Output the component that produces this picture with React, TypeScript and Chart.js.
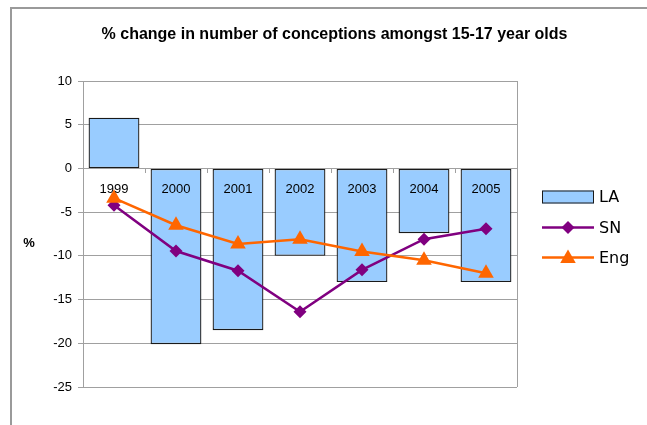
import React, { useEffect, useRef } from 'react';
import { Chart, registerables } from 'chart.js';

Chart.register(...registerables);

const categories = ['1999', '2000', '2001', '2002', '2003', '2004', '2005'];
const laValues = [5.8, -20.1, -18.5, -10.0, -13.0, -7.4, -13.0];
const snValues = [-4.2, -9.45, -11.7, -16.4, -11.6, -8.1, -6.9];
const engValues = [-3.4, -6.5, -8.65, -8.1, -9.5, -10.5, -12.0];
const seriesNames = ['LA', 'SN', 'Eng'];
const yMin = -25;
const yMax = 10;
const yStep = 5;
const titleText = '% change in number of conceptions amongst 15-17 year olds';
const yAxisTitle = '%';

const BAR_FILL = '#99CCFF';
const BAR_BORDER = '#1a1a1a';
const SN_COLOR = '#800080';
const ENG_COLOR = '#FF6600';
const GRID = '#A0A0A0';
const FONT = '"Liberation Sans", Arial, sans-serif';

function drawDiamond(ctx: CanvasRenderingContext2D, x: number, y: number, r: number, color: string) {
  ctx.beginPath();
  ctx.moveTo(x, y - r);
  ctx.lineTo(x + r, y);
  ctx.lineTo(x, y + r);
  ctx.lineTo(x - r, y);
  ctx.closePath();
  ctx.fillStyle = color;
  ctx.fill();
}

function drawTriangle(ctx: CanvasRenderingContext2D, x: number, y: number, r: number, color: string) {
  ctx.beginPath();
  ctx.moveTo(x, y - r);
  ctx.lineTo(x + r * Math.sqrt(3) / 2, y + r / 2);
  ctx.lineTo(x - r * Math.sqrt(3) / 2, y + r / 2);
  ctx.closePath();
  ctx.fillStyle = color;
  ctx.fill();
}

const decorPlugin = {
  id: 'decor',
  beforeDraw(chart: any) {
    const ctx = chart.ctx as CanvasRenderingContext2D;
    ctx.save();
    ctx.fillStyle = '#ffffff';
    ctx.fillRect(0, 0, chart.width, chart.height);
    ctx.restore();
  },
  afterDraw(chart: any) {
    const ctx = chart.ctx as CanvasRenderingContext2D;
    const a = chart.chartArea;
    ctx.save();
    // outer frame
    ctx.fillStyle = '#9a9a9a';
    ctx.fillRect(10, 7, chart.width - 10, 2);
    ctx.fillRect(10, 7, 2, chart.height - 7);
    // plot right border
    ctx.strokeStyle = GRID;
    ctx.lineWidth = 1;
    ctx.beginPath();
    ctx.moveTo(Math.round(a.right) + 0.5, a.top);
    ctx.lineTo(Math.round(a.right) + 0.5, a.bottom);
    ctx.stroke();
    // title
    ctx.fillStyle = '#000';
    ctx.font = 'bold 16px ' + FONT;
    ctx.textAlign = 'center';
    ctx.textBaseline = 'alphabetic';
    ctx.fillText(titleText, chart.width / 2 + 11, 38.5);
    // y axis title
    ctx.font = 'bold 13px ' + FONT;
    ctx.textBaseline = 'middle';
    ctx.fillText(yAxisTitle, 29, (a.top + a.bottom) / 2 + 9);
    // legend
    const lx = a.right + 25;
    const lw = 52;
    const rows = [a.top + 116, a.top + 146.5, a.top + 176.5];
    ctx.font = '16px "DejaVu Sans", sans-serif';
    ctx.textAlign = 'left';
    // LA
    ctx.fillStyle = BAR_FILL;
    ctx.fillRect(lx, rows[0] - 6.5, lw, 13);
    ctx.strokeStyle = BAR_BORDER;
    ctx.strokeRect(lx + 0.5, rows[0] - 6.5 + 0.5, lw - 1, 12);
    // SN
    ctx.strokeStyle = SN_COLOR;
    ctx.lineWidth = 2.5;
    ctx.beginPath();
    ctx.moveTo(lx, rows[1]);
    ctx.lineTo(lx + lw, rows[1]);
    ctx.stroke();
    drawDiamond(ctx, lx + lw / 2, rows[1], 6.5, SN_COLOR);
    // Eng
    ctx.strokeStyle = ENG_COLOR;
    ctx.beginPath();
    ctx.moveTo(lx, rows[2]);
    ctx.lineTo(lx + lw, rows[2]);
    ctx.stroke();
    drawTriangle(ctx, lx + lw / 2, rows[2] + 1, 9, ENG_COLOR);
    ctx.fillStyle = '#000';
    seriesNames.forEach((n, i) => ctx.fillText(n, lx + lw + 5, rows[i] + 1));
    ctx.restore();
  },
};

export default function App() {
  const ref = useRef<HTMLCanvasElement | null>(null);
  useEffect(() => {
    document.body.style.margin = '0';
    const canvas = ref.current;
    if (!canvas) return;
    const chart = new Chart(canvas, {
      type: 'bar',
      data: {
        labels: categories,
        datasets: [
          {
            type: 'line',
            label: seriesNames[2],
            data: engValues,
            borderColor: ENG_COLOR,
            backgroundColor: ENG_COLOR,
            borderWidth: 2.5,
            pointStyle: 'triangle',
            pointRadius: 9,
            pointBorderWidth: 0,
            order: 0,
          } as any,
          {
            type: 'line',
            label: seriesNames[1],
            data: snValues,
            borderColor: SN_COLOR,
            backgroundColor: SN_COLOR,
            borderWidth: 2.5,
            pointStyle: 'rectRot',
            pointRadius: 6.5,
            pointBorderWidth: 0,
            order: 1,
          } as any,
          {
            type: 'bar',
            label: seriesNames[0],
            data: laValues,
            backgroundColor: BAR_FILL,
            borderColor: BAR_BORDER,
            borderWidth: 1.3,
            borderSkipped: false,
            barPercentage: 0.82,
            categoryPercentage: 1,
            order: 3,
          } as any,
        ],
      },
      options: {
        responsive: false,
        animation: false,
        devicePixelRatio: 1,
        layout: { padding: { top: 81, bottom: 38, left: 0, right: 130 } },
        plugins: {
          legend: { display: false },
          title: { display: false },
          tooltip: { enabled: false },
        },
        scales: {
          x: {
            position: { y: 0 } as any,
            grid: {
              drawOnChartArea: false,
              drawTicks: true,
              tickLength: 4,
              color: GRID,
              offset: true,
            },
            border: { display: true, color: GRID },
            ticks: {
              z: 1,
              color: '#000',
              font: { family: FONT, size: 13 },
              padding: 9,
              maxRotation: 0,
            },
          },
          y: {
            min: yMin,
            max: yMax,
            afterFit(scale: any) {
              scale.width = 83;
            },
            grid: { color: GRID, tickLength: 5, drawTicks: true },
            border: { display: true, color: GRID },
            ticks: {
              stepSize: yStep,
              color: '#000',
              font: { family: FONT, size: 13 },
              padding: 6,
            },
          },
        },
      },
      plugins: [decorPlugin],
    });
    return () => chart.destroy();
  }, []);
  return <canvas ref={ref} width={647} height={425} style={{ display: 'block' }} />;
}
